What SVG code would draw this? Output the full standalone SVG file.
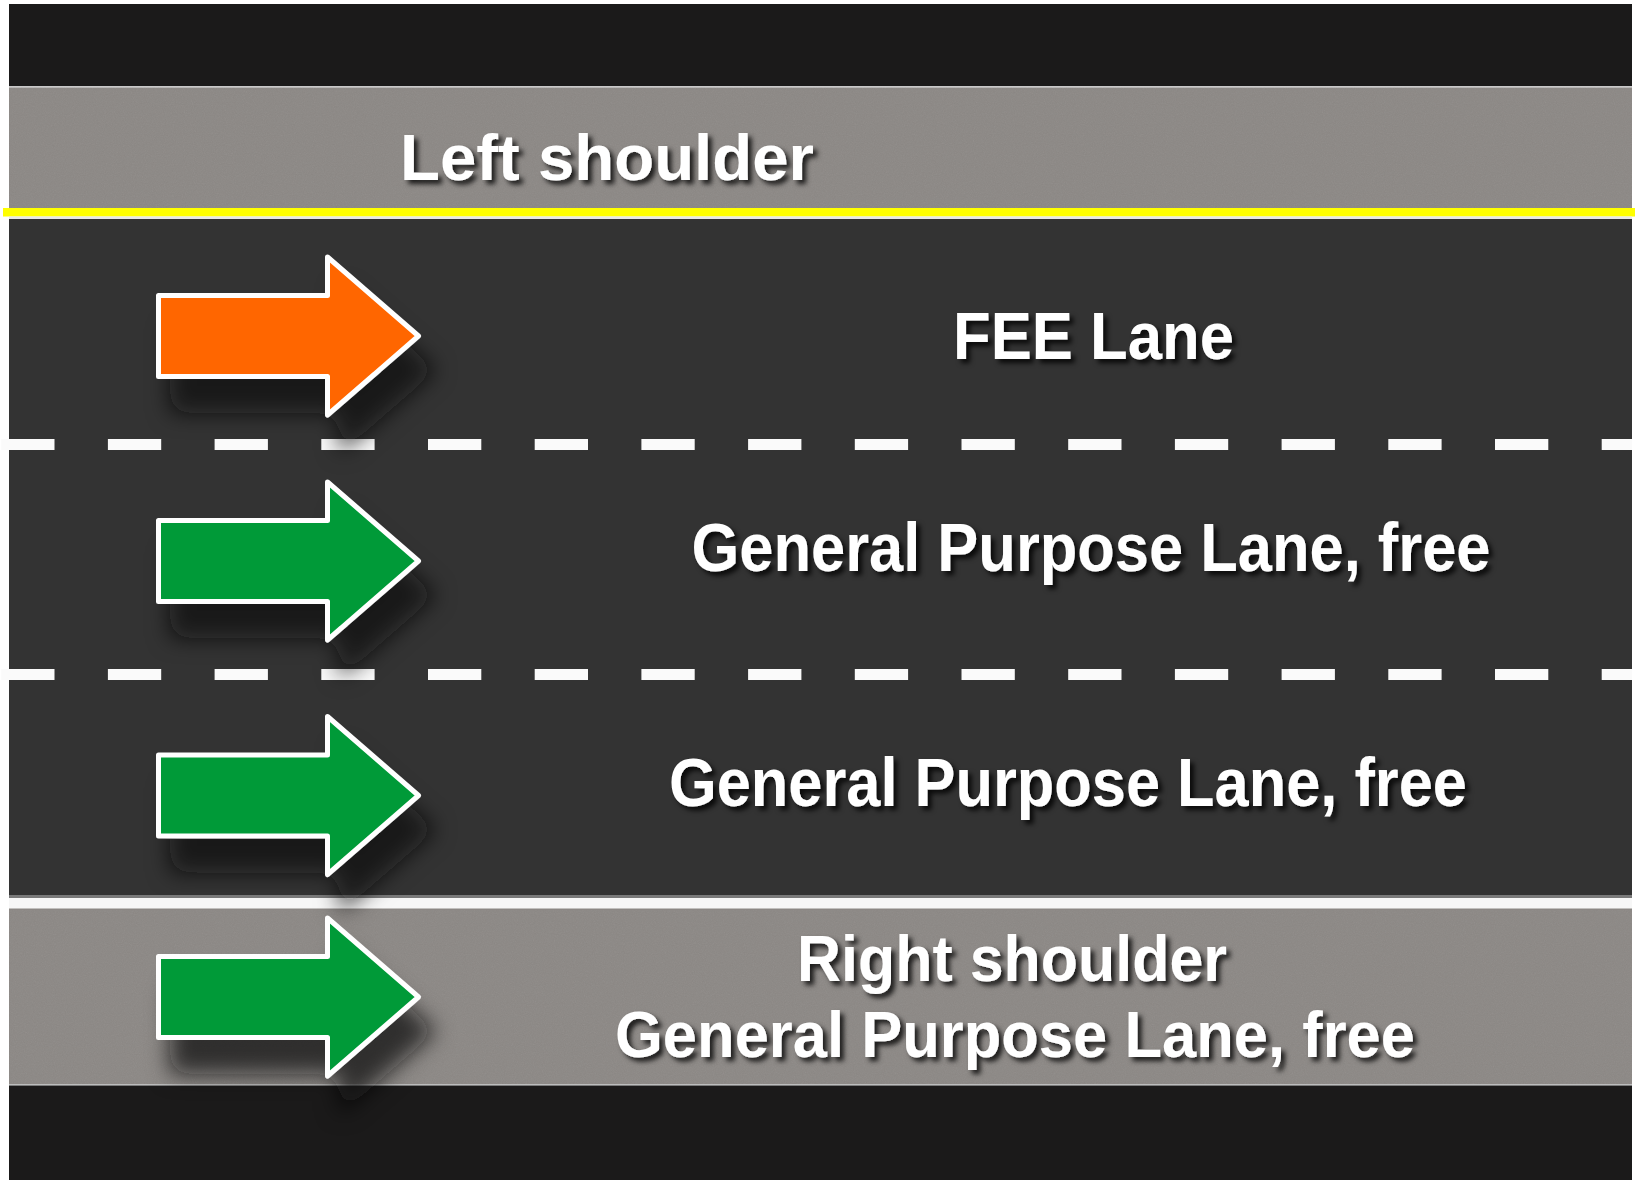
<svg xmlns="http://www.w3.org/2000/svg" width="1635" height="1180" viewBox="0 0 1635 1180">
  <defs>
    <style>
      .band-black { fill: #1b1a1a; }
      .shoulder { fill: #8c8885; }
      .lane { fill: #333333; }
      .dash { stroke: #fafafa; stroke-width: 11; stroke-dasharray: 53.3 53.4; fill: none; }
      .lbl { font-family: "Liberation Sans", Arial, Helvetica, sans-serif; font-weight: bold; fill: #ffffff; filter: url(#txtShadow); }
      .arrow { stroke: #ffffff; stroke-width: 5; stroke-linejoin: round; filter: url(#arrowShadow); }
      .fee { fill: #ff6600; }
      .free { fill: #009a38; }
    </style>
    <filter id="txtShadow" x="-5%" y="-30%" width="115%" height="170%">
      <feDropShadow dx="4" dy="4" stdDeviation="2.5" flood-color="#000000" flood-opacity="0.8"/>
    </filter>
    <filter id="arrowShadow" x="-20%" y="-30%" width="160%" height="200%">
      <feDropShadow dx="14" dy="34" stdDeviation="11" flood-color="#120d0a" flood-opacity="0.75"/>
    </filter>
    <filter id="noise" x="0" y="0" width="100%" height="100%">
      <feTurbulence type="fractalNoise" baseFrequency="0.9" numOctaves="2" seed="4"/>
      <feColorMatrix type="saturate" values="0"/>
    </filter>
    <path id="arrowShape" d="M158.5,-40.5 H327.5 V-79 L418.5,0 L327.5,79 V40.5 H158.5 Z"/>
  </defs>

  <rect x="0" y="0" width="1635" height="1180" fill="#ffffff"/>

  <g id="road">
    <rect class="band-black" x="9" y="4" width="1623" height="83"/>
    <rect x="9" y="86" width="1623" height="1.5" fill="#c9c9c9"/>
    <rect class="shoulder" x="9" y="87.5" width="1623" height="121"/>
    <rect class="lane" x="9" y="218" width="1623" height="679"/>
    <rect x="9" y="895" width="1623" height="3" fill="#7a7a7a"/>
    <rect class="shoulder" x="9" y="908" width="1623" height="176"/>
    <rect x="9" y="1084" width="1623" height="1.5" fill="#bdbdbd"/>
    <rect class="band-black" x="9" y="1085.5" width="1623" height="94.5"/>
    <g opacity="0.1">
      <rect x="9" y="87.5" width="1623" height="121" filter="url(#noise)"/>
      <rect x="9" y="910" width="1623" height="174" filter="url(#noise)"/>
    </g>
  </g>

  <g id="markings">
    <rect x="3" y="208" width="1632" height="8.5" fill="#ffff00"/>
    <rect x="9" y="216.5" width="1623" height="2.5" fill="#e8e8e8"/>
    <line class="dash" x1="1.2" y1="444.5" x2="1632" y2="444.5"/>
    <line class="dash" x1="1.2" y1="674.5" x2="1632" y2="674.5"/>
    <rect x="9" y="898" width="1623" height="10.5" fill="#f7f7f7"/>
  </g>

  <g id="connectors"></g>

  <g id="left-shoulder">
    <text class="lbl" x="400" y="180" font-size="65" textLength="414" lengthAdjust="spacingAndGlyphs">Left shoulder</text>
  </g>

  <g id="fee-lane">
    <use href="#arrowShape" class="arrow fee" transform="translate(0,336)"/>
    <text class="lbl" x="953" y="359" font-size="67" textLength="281" lengthAdjust="spacingAndGlyphs">FEE Lane</text>
  </g>

  <g id="gp-lane-1">
    <use href="#arrowShape" class="arrow free" transform="translate(0,561)"/>
    <text class="lbl" x="691.5" y="571" font-size="68" textLength="799" lengthAdjust="spacingAndGlyphs">General Purpose Lane, free</text>
  </g>

  <g id="gp-lane-2">
    <use href="#arrowShape" class="arrow free" transform="translate(0,795.5)"/>
    <text class="lbl" x="669" y="806" font-size="68" textLength="798" lengthAdjust="spacingAndGlyphs">General Purpose Lane, free</text>
  </g>

  <g id="right-shoulder">
    <use href="#arrowShape" class="arrow free" transform="translate(0,997)"/>
    <text class="lbl" x="797" y="981" font-size="65" textLength="430" lengthAdjust="spacingAndGlyphs">Right shoulder</text>
    <text class="lbl" x="615" y="1057" font-size="65" textLength="800" lengthAdjust="spacingAndGlyphs">General Purpose Lane, free</text>
  </g>
</svg>
